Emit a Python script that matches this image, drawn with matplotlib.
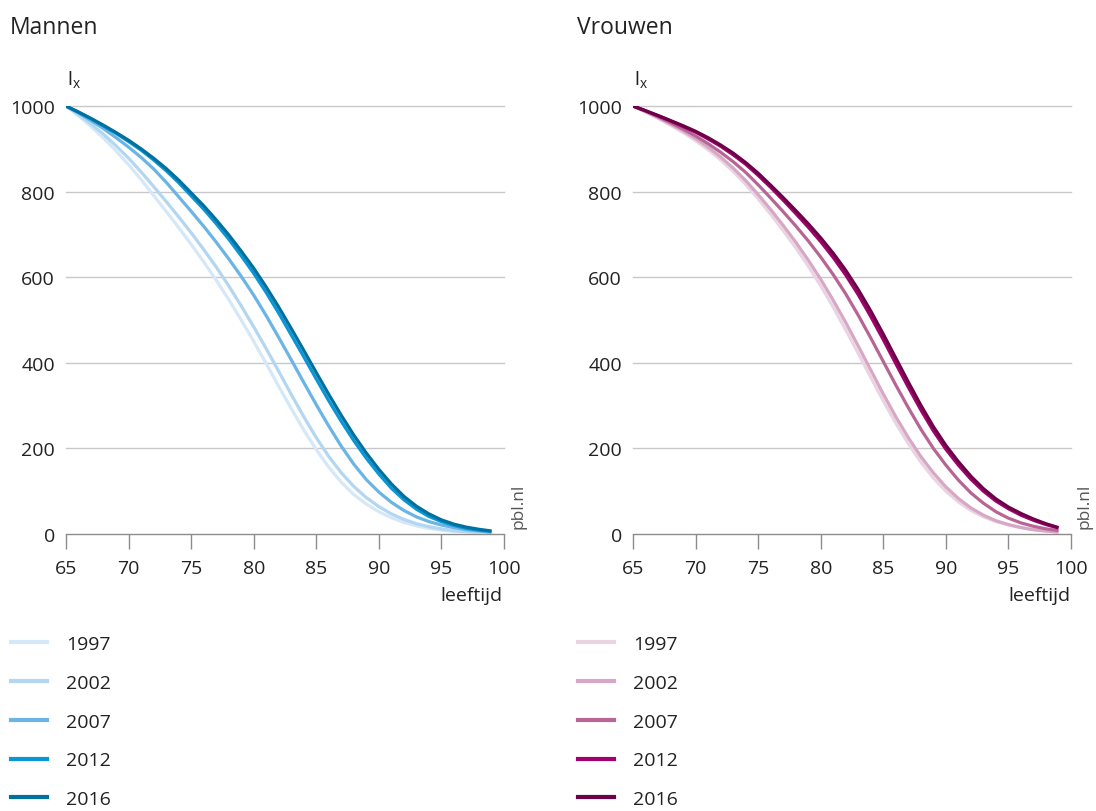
import matplotlib
matplotlib.use("Agg")
import matplotlib.pyplot as plt
from matplotlib.lines import Line2D

plt.rcParams['font.family'] = ['Open Sans', 'DejaVu Sans']

ages = list(range(65, 100))
years = ['1997', '2002', '2007', '2012', '2016']

men_1997 = [1000, 977, 952, 925, 895, 863, 828, 791, 754, 716, 677, 636, 593, 548, 500, 450, 398, 345, 293, 243, 197, 156, 121, 92, 70, 52, 38, 27, 19, 13, 9, 6, 4, 2, 1]
men_2002 = [1000, 980, 958, 934, 907, 878, 846, 812, 777, 741, 704, 665, 624, 580, 533, 484, 433, 380, 326, 274, 225, 181, 143, 111, 85, 64, 47, 34, 24, 17, 12, 8, 5, 3, 2]
men_2007 = [1000, 984, 966, 947, 926, 904, 880, 853, 822, 788, 754, 719, 682, 643, 602, 558, 510, 459, 407, 354, 302, 252, 205, 163, 127, 98, 74, 55, 40, 29, 21, 15, 10, 7, 4]
men_2012 = [1000, 985, 970, 953, 936, 917, 897, 874, 849, 821, 790, 759, 725, 689, 650, 609, 564, 516, 465, 414, 362, 311, 263, 218, 177, 140, 107, 80, 58, 41, 29, 20, 13, 9, 6]
men_2016 = [1000, 986, 971, 955, 938, 920, 900, 878, 854, 827, 797, 767, 734, 699, 661, 621, 577, 530, 480, 429, 377, 326, 277, 231, 189, 151, 117, 88, 65, 47, 33, 23, 16, 11, 7]

women_1997 = [1000, 986, 971, 955, 938, 919, 898, 874, 847, 817, 783, 747, 709, 669, 626, 580, 530, 477, 422, 366, 311, 259, 211, 168, 131, 100, 75, 55, 40, 29, 21, 15, 10, 7, 4]
women_2002 = [1000, 987, 973, 958, 942, 924, 904, 881, 855, 826, 793, 758, 721, 682, 640, 595, 546, 494, 439, 383, 327, 274, 225, 181, 143, 110, 83, 61, 44, 31, 22, 15, 10, 7, 4]
women_2007 = [1000, 988, 975, 961, 946, 930, 912, 892, 870, 845, 816, 785, 753, 720, 685, 647, 606, 561, 511, 458, 403, 348, 295, 245, 200, 161, 126, 96, 72, 52, 37, 26, 18, 12, 8]
women_2012 = [1000, 989, 977, 965, 952, 939, 923, 906, 886, 864, 838, 810, 780, 749, 717, 683, 646, 605, 559, 508, 454, 398, 343, 290, 241, 198, 161, 128, 100, 77, 59, 44, 32, 22, 14]
women_2016 = [1000, 989, 978, 966, 954, 941, 926, 909, 890, 868, 843, 815, 786, 756, 725, 692, 656, 616, 571, 521, 467, 411, 355, 301, 251, 207, 169, 135, 106, 82, 63, 48, 35, 24, 15]

men_colors = ['#d5e8f7', '#b3d6f1', '#6ab4e6', '#0a96d6', '#00709f']
women_colors = ['#ebd4e2', '#d6a8c5', '#b86593', '#a1006d', '#6e0049']

x_ticks = [65, 70, 75, 80, 85, 90, 95, 100]
y_ticks = [0, 200, 400, 600, 800, 1000]

fig = plt.figure(figsize=(10.96, 8.12), dpi=100)

panels = [
    ('Mannen', [men_1997, men_2002, men_2007, men_2012, men_2016], men_colors, 66),
    ('Vrouwen', [women_1997, women_2002, women_2007, women_2012, women_2016], women_colors, 633),
]

W, H = 1096, 812
txt = '#222222'
for title, series, colors, x0 in panels:
    ax = fig.add_axes([x0 / W, 1 - 535 / H, 438 / W, 428 / H])
    for vals, c in zip(series, colors):
        ax.plot(ages, vals, color=c, lw=2.3, solid_capstyle='butt', zorder=3)
    ax.set_xlim(65, 100)
    ax.set_ylim(0, 1000)
    ax.set_xticks(x_ticks)
    ax.set_yticks(y_ticks)
    ax.set_xticklabels([str(t) for t in x_ticks], fontsize=14, color=txt)
    ax.set_yticklabels([str(t) for t in y_ticks], fontsize=14, color=txt)
    for s in ['left', 'right', 'top']:
        ax.spines[s].set_visible(False)
    ax.spines['bottom'].set_color('#8c8c8c')
    ax.spines['bottom'].set_linewidth(1.0)
    ax.tick_params(axis='x', length=11, width=1.0, color='#8c8c8c', pad=7, direction='out')
    ax.tick_params(axis='y', length=0, pad=8)
    for t in y_ticks[1:]:
        ax.axhline(t, color='#c8c8c8', lw=1.0, zorder=1, clip_on=False)
    fig.text((x0 - 56) / W, 1 - 28 / H, title, fontsize=16.5, color=txt, va='center', ha='left')
    fig.text((x0 + 1) / W, 1 - 80 / H, r'$\mathregular{l_x}$', fontsize=14, color=txt, va='center', ha='left')
    fig.text((x0 + 437) / W, 1 - 596 / H, 'leeftijd', fontsize=14, color=txt, va='center', ha='right')
    fig.text((x0 + 452) / W, 1 - 529 / H, 'pbl.nl', fontsize=12.5, color='#555555', rotation=90, va='bottom', ha='center')

    handles = [Line2D([], [], color=c, lw=3.0) for c in colors]
    fig.legend(handles, years, loc='upper left',
               bbox_to_anchor=((x0 - 55) / W, 1 - 636 / H),
               bbox_transform=fig.transFigure, frameon=False,
               fontsize=14, handlelength=1.85, handletextpad=0.98,
               labelspacing=1.07, borderaxespad=0, borderpad=0, labelcolor=txt)

fig.savefig('out.png', dpi=100)
